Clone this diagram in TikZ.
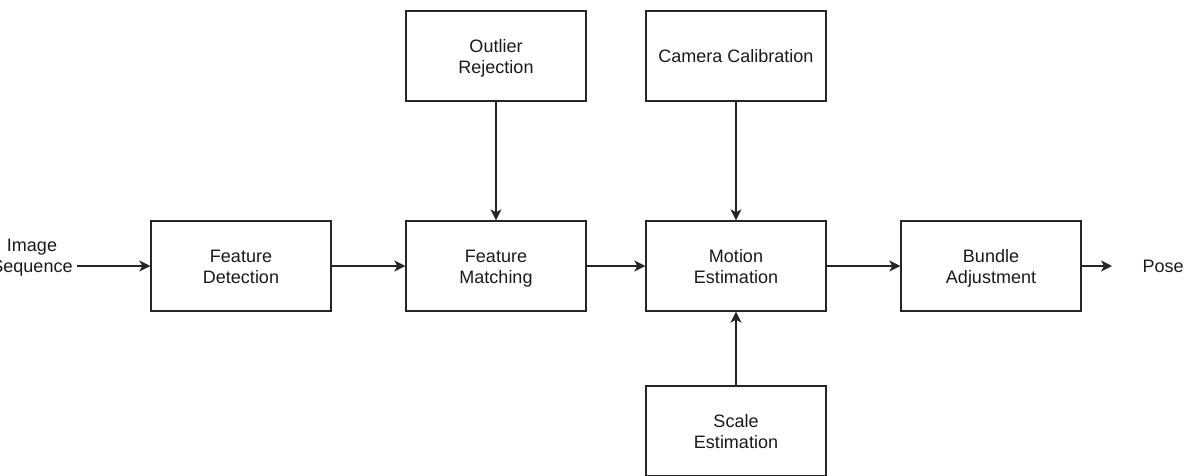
\documentclass[tikz,border=0pt]{standalone}
\usepackage{fontspec}
\setmainfont{Liberation Sans}
\usetikzlibrary{arrows.meta}
\definecolor{linec}{HTML}{262626}
\definecolor{textc}{HTML}{1A1A1A}
\newcommand{\twolines}[2]{\raisebox{-3pt}[\height][\depth]{\begin{tabular}{@{}c@{}}#1\\#2\end{tabular}}}
\begin{document}
\begin{tikzpicture}[x=1pt,y=-1pt,
  box/.style={draw=linec, line width=1.4pt, minimum width=180pt, minimum height=90pt,
    inner sep=0pt, align=center, text=textc, font=\fontsize{18}{21}\selectfont},
  lbl/.style={inner sep=0pt, align=center, text=textc, font=\fontsize{18}{21}\selectfont},
  conn/.style={draw=linec, line width=1.4pt, -{Stealth[length=11pt,width=11pt,inset=3pt]}}]
\useasboundingbox (0,0) rectangle (1194,475);
\node[box] (fd) at (241,266) {\twolines{Feature}{Detection}};
\node[box] (fm) at (496,266) {\twolines{Feature}{Matching}};
\node[box] (me) at (736,266) {\twolines{Motion}{Estimation}};
\node[box] (ba) at (991,266) {\twolines{Bundle}{Adjustment}};
\node[box] (or) at (496,56) {\twolines{Outlier}{Rejection}};
\node[box] (cc) at (736,56) {Camera Calibration};
\node[box] (se) at (736,431) {\twolines{Scale}{Estimation}};
\node[lbl] (is) at (32,258) {Image\\Sequence};
\node[lbl] (po) at (1163,266) {Pose};
\coordinate (isend) at (77,266);
\coordinate (poend) at (1112,266);
\draw[conn] (isend) -- (fd.west);
\draw[conn] (fd.east) -- (fm.west);
\draw[conn] (fm.east) -- (me.west);
\draw[conn] (me.east) -- (ba.west);
\draw[conn] (ba.east) -- (poend);
\draw[conn] (or.south) -- (fm.north);
\draw[conn] (cc.south) -- (me.north);
\draw[conn] (se.north) -- (me.south);
\end{tikzpicture}
\end{document}
